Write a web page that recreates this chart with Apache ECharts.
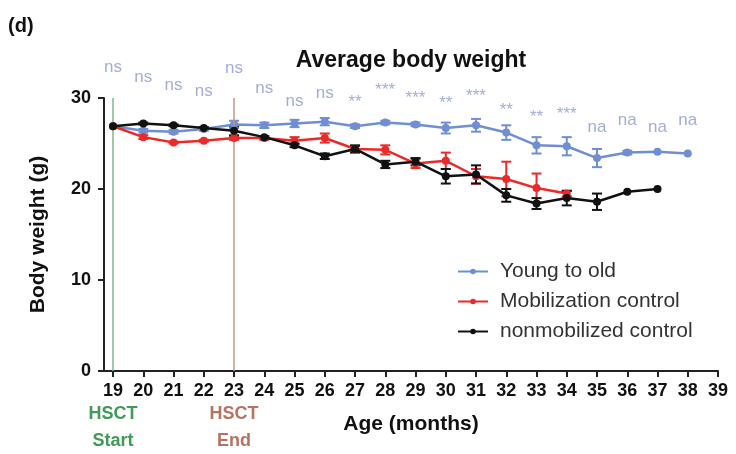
<!DOCTYPE html>
<html><head><meta charset="utf-8">
<script src="https://cdn.jsdelivr.net/npm/echarts@6/dist/echarts.min.js"></script>
<style>html,body{margin:0;padding:0;background:#fff}#c{width:736px;height:454px}</style>
</head><body><div id="c"></div>
<script>
// ---- data ----
const tickMonths = [19,20,21,22,23,24,25,26,27,28,29,30,31,32,33,34,35,36,37,38,39];
const yTicks = [0,10,20,30];
const blueMonths = [19,20,21,22,23,24,25,26,27,28,29,30,31,32,33,34,35,36,37,38];
const blueY   = [26.9,26.4,26.3,26.6,27.1,27.0,27.2,27.4,26.9,27.3,27.1,26.7,27.0,26.2,24.8,24.7,23.4,24.0,24.1,23.9];
const blueErr = [0,0.2,0.2,0.2,0.4,0.3,0.4,0.4,0.2,0.2,0.2,0.6,0.7,0.8,0.9,1.0,1.0,0.2,0,0];
const redMonths = [19,20,21,22,23,24,25,26,27,28,29,30,31,32,33,34];
const redY   = [26.9,25.7,25.1,25.3,25.6,25.6,25.3,25.6,24.4,24.3,22.8,23.1,21.4,21.1,20.1,19.5];
const redErr = [0,0.2,0.1,0.1,0.2,0.2,0.4,0.5,0.3,0.5,0.5,0.9,0.8,1.9,1.6,0.3];
const blackMonths = [19,20,21,22,23,24,25,26,27,28,29,30,31,32,33,34,35,36,37];
const blackY   = [26.9,27.2,27.0,26.7,26.4,25.7,24.8,23.6,24.4,22.7,23.0,21.4,21.6,19.3,18.4,19.0,18.6,19.7,20.0];
const blackErr = [0,0.1,0.1,0.1,0.5,0.1,0.2,0.3,0.4,0.4,0.4,0.8,1.0,0.7,0.6,0.8,0.9,0,0];
const sigText = ['ns','ns','ns','ns','ns','ns','ns','ns','**','***','***','**','***','**','**','***','na','na','na','na'];
const sigY    = [33.4,32.3,31.4,30.7,33.3,31.1,29.6,30.5,29.5,30.8,30.0,29.4,30.2,28.7,27.9,28.2,26.8,27.6,26.8,27.5];
const seriesNames = ['Young to old','Mobilization control','nonmobilized control'];
const hsctStart = 19, hsctEnd = 23;

const C_BLUE = '#6f8fd2', C_RED = '#ea2a2a', C_BLACK = '#111111';
const FONT = '"Liberation Sans", Arial, sans-serif';

function pairs(xs, ys){ return xs.map((x,i)=>[x, ys[i]]); }
function errPairs(xs, ys, es){ return xs.map((x,i)=>[x, ys[i], es[i]]); }

function errSeries(name, data, color){
  return {
    type:'custom', name: name, silent:true, z:3,
    data: data,
    renderItem: function(params, api){
      const x = api.value(0), y = api.value(1), e = api.value(2);
      if (!e) return;
      const top = api.coord([x, y + e]), bot = api.coord([x, y - e]);
      const hw = 5;
      return { type:'group', children:[
        {type:'line', shape:{x1:top[0],y1:top[1],x2:bot[0],y2:bot[1]}, style:{stroke:color,lineWidth:2}},
        {type:'line', shape:{x1:top[0]-hw,y1:top[1],x2:top[0]+hw,y2:top[1]}, style:{stroke:color,lineWidth:2}},
        {type:'line', shape:{x1:bot[0]-hw,y1:bot[1],x2:bot[0]+hw,y2:bot[1]}, style:{stroke:color,lineWidth:2}}
      ]};
    }
  };
}
function lineSeries(name, data, color, z){
  return {
    type:'line', name:name, data:data, z:z,
    symbol:'circle', symbolSize:8,
    lineStyle:{color:color, width:2.5}, itemStyle:{color:color},
    emphasis:{disabled:true}, animation:false
  };
}

const chart = echarts.init(document.getElementById('c'), null, {renderer:'canvas'});
const option = {
  animation:false,
  backgroundColor:'#ffffff',
  textStyle:{fontFamily:FONT},
  legend:{ orient:'vertical', left:452, top:256, itemWidth:30, itemHeight:7, itemGap:9,
    data: seriesNames,
    textStyle:{fontFamily:FONT, fontSize:21, color:'#333', padding:[0,0,0,7]} },
  grid:{ left:104, right:18, top:98, bottom:83 },
  xAxis:{ type:'value', min:18.7, max:39,
    name:'Age (months)', nameLocation:'middle', nameGap:43,
    nameTextStyle:{fontFamily:FONT, fontSize:21, fontWeight:'bold', color:'#111'},
    axisLine:{lineStyle:{color:'#222', width:2}},
    axisTick:{customValues: tickMonths, length:6, lineStyle:{color:'#222', width:2}},
    axisLabel:{customValues: tickMonths, margin:11, fontFamily:FONT, fontSize:18, fontWeight:'bold', color:'#111'},
    splitLine:{show:false} },
  yAxis:{ type:'value', min:0, max:30, interval:10,
    name:'Body weight (g)', nameLocation:'middle', nameGap:55,
    nameTextStyle:{fontFamily:FONT, fontSize:21, fontWeight:'bold', color:'#111'},
    axisLine:{show:true, lineStyle:{color:'#222', width:2}},
    axisTick:{show:true, length:6, lineStyle:{color:'#222', width:2}},
    axisLabel:{margin:13, fontFamily:FONT, fontSize:18, fontWeight:'bold', color:'#111'},
    splitLine:{show:false} },
  graphic:[
    {type:'text', left:8, top:16, style:{text:'(d)', font:'bold 20px '+FONT, fill:'#111'}},
    {type:'text', x:411, y:61, style:{text:'Average body weight', font:'bold 23px '+FONT, fill:'#111', align:'center', verticalAlign:'middle'}}
  ],
  series:[
    Object.assign(lineSeries(seriesNames[0], pairs(blueMonths, blueY), C_BLUE, 4), {
      markLine:{ silent:true, symbol:'none', animation:false, label:{show:false},
        data:[ {xAxis:hsctStart, lineStyle:{color:'#7fb98d', width:1.5, type:'solid'}},
               {xAxis:hsctEnd, lineStyle:{color:'#c4968c', width:1.5, type:'solid'}} ] }
    }),
    errSeries('eb', errPairs(blueMonths, blueY, blueErr), C_BLUE),
    lineSeries(seriesNames[1], pairs(redMonths, redY), C_RED, 5),
    errSeries('er', errPairs(redMonths, redY, redErr), C_RED),
    lineSeries(seriesNames[2], pairs(blackMonths, blackY), C_BLACK, 6),
    errSeries('ek', errPairs(blackMonths, blackY, blackErr), C_BLACK),
    { type:'custom', name:'sig', silent:true, clip:false, z:7,
      data: blueMonths.map((m,i)=>[m, sigY[i], i]),
      renderItem:function(params, api){
        const p = api.coord([api.value(0), api.value(1)]);
        return {type:'text', x:p[0], y:p[1], style:{text:sigText[api.value(2)], font:'17px '+FONT, fill:'#a3aed8', align:'center', verticalAlign:'middle'}};
      } },
    { type:'custom', name:'hsct', silent:true, clip:false, z:7,
      data:[[hsctStart, 0, 0],[hsctEnd, 0, 1]],
      renderItem:function(params, api){
        const p = api.coord([api.value(0), api.value(1)]);
        const isStart = api.value(2) === 0;
        const col = isStart ? '#3f9b55' : '#b8725f';
        return {type:'group', children:[
          {type:'text', x:p[0], y:p[1]+43, style:{text:'HSCT', font:'bold 18px '+FONT, fill:col, align:'center', verticalAlign:'middle'}},
          {type:'text', x:p[0], y:p[1]+70, style:{text: isStart ? 'Start' : 'End', font:'bold 18px '+FONT, fill:col, align:'center', verticalAlign:'middle'}}
        ]};
      } }
  ]
};
chart.setOption(option);
</script>
</body></html>
